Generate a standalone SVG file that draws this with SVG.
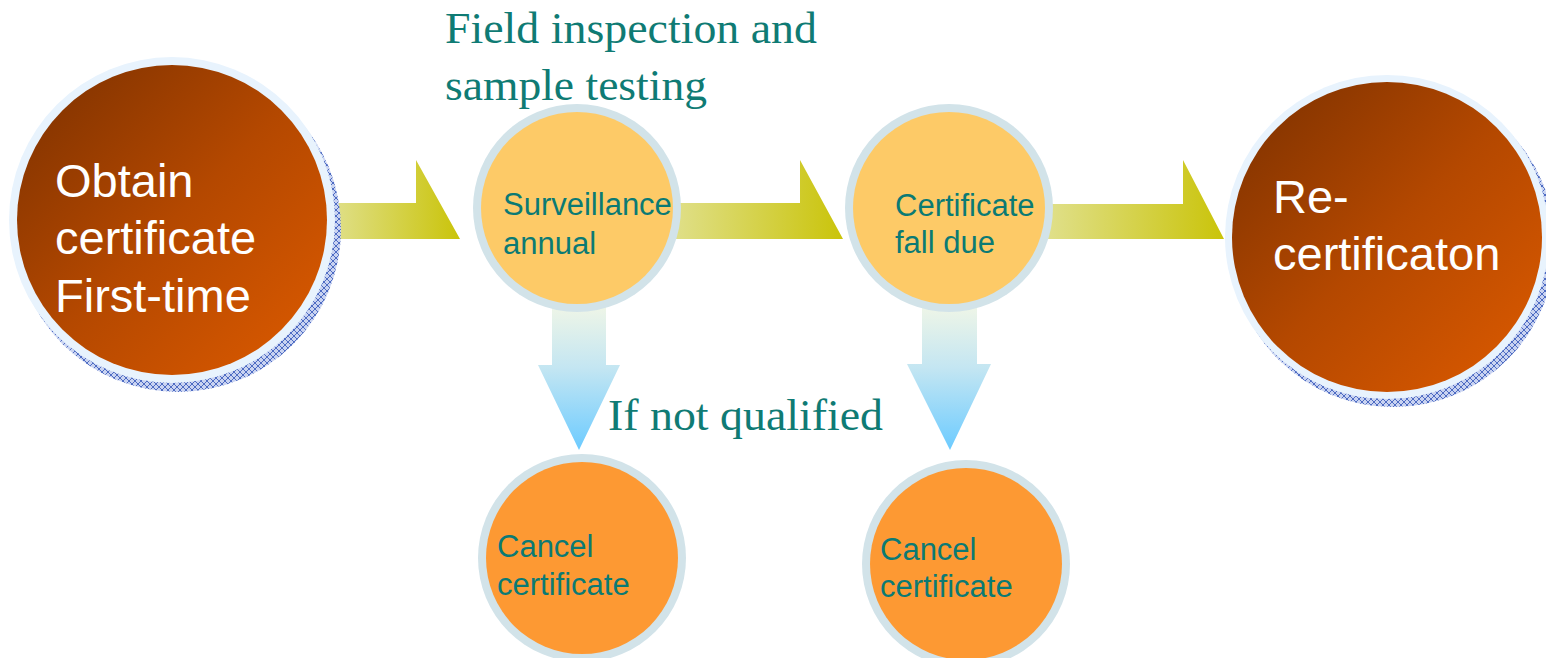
<svg xmlns="http://www.w3.org/2000/svg" width="1546" height="658" viewBox="0 0 1546 658">
  <style>
    .big { font-family: "Liberation Sans", Arial, sans-serif; font-size: 47px; fill: #ffffff; }
    .small { font-family: "Liberation Sans", Arial, sans-serif; font-size: 31px; fill: #0b7a74; }
    .serif { font-family: "Liberation Serif", "Times New Roman", serif; font-size: 44px; fill: #0f7b74; }
    .ring-big { fill: #e8f3fd; }
    .ring-small { fill: #d2e3e9; }
    .core-big { fill: url(#bigGrad); }
    .core-yellow { fill: #fdca67; }
    .core-orange { fill: #fd9933; }
    .shadow { fill: url(#hatch); }
    .arrow-right { fill: url(#rightGrad); }
    .arrow-down { fill: url(#downGrad); }
  </style>
  <defs>
    <linearGradient id="bigGrad" x1="0" y1="0" x2="1" y2="1">
      <stop offset="0" stop-color="#7a3000"/>
      <stop offset="0.5" stop-color="#b44800"/>
      <stop offset="1" stop-color="#de5b00"/>
    </linearGradient>
    <linearGradient id="rightGrad" x1="0" y1="0" x2="1" y2="0">
      <stop offset="0" stop-color="#e0e08c"/>
      <stop offset="1" stop-color="#cac40a"/>
    </linearGradient>
    <linearGradient id="downGrad" x1="0" y1="0" x2="0" y2="1">
      <stop offset="0" stop-color="#f3f7e6"/>
      <stop offset="0.45" stop-color="#c4e6f2"/>
      <stop offset="1" stop-color="#6ccbff"/>
    </linearGradient>
    <pattern id="hatch" width="6" height="6" patternUnits="userSpaceOnUse">
      <rect width="6" height="6" fill="#c9d3f1"/>
      <path d="M0,0 L6,6 M6,0 L0,6" stroke="#2f52b8" stroke-width="0.8"/>
    </pattern>
  </defs>

  <g id="connectors">
    <path class="arrow-right" d="M330,203 L416,203 L416,160 L460,239 L330,239 Z"/>
    <path class="arrow-right" d="M670,203 L800,203 L800,160 L843,239 L670,239 Z"/>
    <path class="arrow-right" d="M1045,204 L1183,204 L1183,160 L1224,239 L1045,239 Z"/>
    <path class="arrow-down" d="M552,300 L606,300 L606,365 L620,365 L579,450 L538,365 L552,365 Z"/>
    <path class="arrow-down" d="M922,300 L977,300 L977,364 L991,364 L950,450 L907,364 L922,364 Z"/>
  </g>

  <g id="node-obtain">
    <circle class="shadow" cx="178" cy="229" r="163"/>
    <circle class="ring-big" cx="172" cy="220" r="163"/>
    <circle class="core-big" cx="172" cy="220" r="155"/>
    <text class="big" x="55" y="197">Obtain</text>
    <text class="big" x="55" y="254">certificate</text>
    <text class="big" x="55" y="312">First-time</text>
  </g>

  <g id="node-recertification">
    <circle class="shadow" cx="1393" cy="245" r="162"/>
    <circle class="ring-big" cx="1387" cy="237" r="162"/>
    <circle class="core-big" cx="1387" cy="237" r="155"/>
    <text class="big" x="1273" y="213">Re-</text>
    <text class="big" x="1273" y="270">certificaton</text>
  </g>

  <g id="node-surveillance">
    <circle class="ring-small" cx="577" cy="208" r="104"/>
    <circle class="core-yellow" cx="577" cy="208" r="96"/>
    <text class="small" x="503" y="215">Surveillance</text>
    <text class="small" x="503" y="254">annual</text>
  </g>

  <g id="node-fall-due">
    <circle class="ring-small" cx="949" cy="208" r="104"/>
    <circle class="core-yellow" cx="949" cy="208" r="96"/>
    <text class="small" x="895" y="216">Certificate</text>
    <text class="small" x="895" y="253">fall due</text>
  </g>

  <g id="node-cancel-1">
    <circle class="ring-small" cx="582" cy="558" r="104"/>
    <circle class="core-orange" cx="582" cy="558" r="96"/>
    <text class="small" x="497" y="557">Cancel</text>
    <text class="small" x="497" y="595">certificate</text>
  </g>

  <g id="node-cancel-2">
    <circle class="ring-small" cx="966" cy="564" r="104"/>
    <circle class="core-orange" cx="966" cy="564" r="96"/>
    <text class="small" x="880" y="560">Cancel</text>
    <text class="small" x="880" y="597">certificate</text>
  </g>

  <g id="labels">
    <text class="serif" x="445" y="43" textLength="372" lengthAdjust="spacingAndGlyphs">Field inspection and</text>
    <text class="serif" x="445" y="100" textLength="262" lengthAdjust="spacingAndGlyphs">sample testing</text>
    <text class="serif" x="608" y="430" textLength="275" lengthAdjust="spacingAndGlyphs">If not qualified</text>
  </g>
</svg>
